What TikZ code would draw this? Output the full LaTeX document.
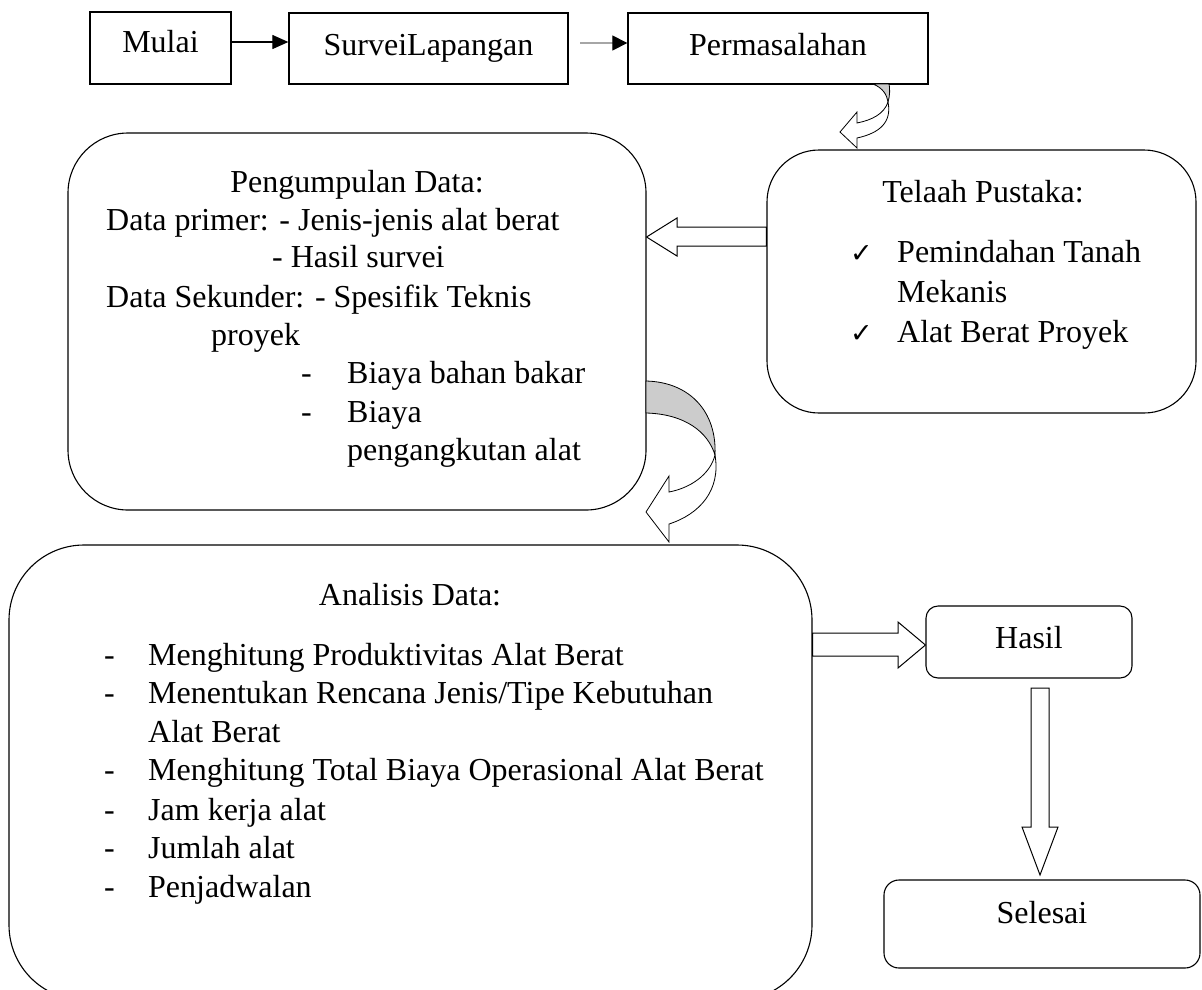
\documentclass[tikz,border=0pt]{standalone}
\usepackage{fontspec}
\setmainfont{Liberation Serif}
\newfontfamily\symfont{DejaVu Sans}
\usetikzlibrary{arrows.meta,calc}
\begin{document}
\begin{tikzpicture}[x=1pt,y=-1pt,
  font=\fontsize{32}{38}\selectfont,
  plainbox/.style={draw, line width=1.3pt, inner sep=0pt, text height=24pt},
  roundbox/.style={draw, line width=1.1pt, inner sep=0pt},
  txt/.style={inner sep=0pt, anchor=base west},
  ctxt/.style={inner sep=0pt, anchor=base},
  chk/.style={inner sep=0pt, anchor=base west, font=\symfont\fontsize{27}{27}\selectfont},
  blockarrow/.style={draw, line width=1pt, fill=white, line join=miter},
  curvegray/.style={draw, line width=0.8pt, fill=gray!40},
  curvewhite/.style={draw, line width=0.8pt, fill=white, line join=miter}]
\useasboundingbox (0,0) rectangle (1202,989);

% top row
\node[plainbox, minimum width=141pt, minimum height=72pt, text depth=16pt] (mulai) at (160.5,48) {Mulai};
\node[plainbox, minimum width=279pt, minimum height=71pt, text depth=11pt] (survei) at (428.5,48.5) {SurveiLapangan};
\node[plainbox, minimum width=300pt, minimum height=71pt, text depth=11pt] (masalah) at (778,48.5) {Permasalahan};

\draw[line width=1.2pt, -{Triangle[length=16pt,width=14pt]}] (mulai.east |- 0,42) -- (survei.west |- 0,42);
\coordinate (g1) at (580,43);
\draw[gray!70, line width=1.2pt, -{Triangle[length=15pt,width=15pt,color=black,fill=black]}] (g1) -- (masalah.west |- g1);

% boxes
\node[roundbox, rounded corners=60pt, minimum width=578pt, minimum height=377pt] (kumpul) at (357,321.5) {};
\node[roundbox, rounded corners=52pt, minimum width=429pt, minimum height=263pt] (telaah) at (981.5,281.5) {};
\node[roundbox, rounded corners=75pt, minimum width=803pt, minimum height=455pt] (analisis) at (410.5,772.5) {};
\node[roundbox, rounded corners=12pt, minimum width=206pt, minimum height=72pt, text height=24pt, text depth=12pt] (hasil) at (1029,642) {Hasil};
\node[roundbox, rounded corners=15pt, minimum width=316pt, minimum height=88pt, text height=24pt, text depth=26pt] (selesai) at (1042,924) {Selesai};

% Pengumpulan text
\node[ctxt] (k0) at (357,192) {Pengumpulan Data:};
\node[txt] (k1) at (106,230) {Data primer: - Jenis-jenis alat berat};
\node[txt] (k2) at (272,267) {- Hasil survei};
\node[txt] (k3) at (106,307) {Data Sekunder: - Spesifik Teknis};
\node[txt] (k4) at (211,345) {proyek};
\node[txt] (k5d) at (301,383) {-};
\node[txt] (k5) at (347,383) {Biaya bahan bakar};
\node[txt] (k6d) at (301,422) {-};
\node[txt] (k6) at (347,422) {Biaya};
\node[txt] (k7) at (347,460) {pengangkutan alat};

% Telaah text
\node[ctxt] (t0) at (983,202) {Telaah Pustaka:};
\node[chk] (t1c) at (850,262) {✓};
\node[txt] (t1) at (897,262) {Pemindahan Tanah};
\node[txt] (t2) at (897,302) {Mekanis};
\node[chk] (t3c) at (850,342) {✓};
\node[txt] (t3) at (897,342) {Alat Berat Proyek};

% Analisis text
\node[ctxt] (a0) at (410,605) {Analisis Data:};
\node[txt] (a1d) at (104,665) {-};
\node[txt] (a1) at (148,665) {Menghitung Produktivitas Alat Berat};
\node[txt] (a2d) at (104,703) {-};
\node[txt] (a2) at (148,703) {Menentukan Rencana Jenis/Tipe Kebutuhan};
\node[txt] (a2b) at (148,742) {Alat Berat};
\node[txt] (a3d) at (104,780) {-};
\node[txt] (a3) at (148,780) {Menghitung Total Biaya Operasional Alat Berat};
\node[txt] (a4d) at (104,820) {-};
\node[txt] (a4) at (148,820) {Jam kerja alat};
\node[txt] (a5d) at (104,858) {-};
\node[txt] (a5) at (148,858) {Jumlah alat};
\node[txt] (a6d) at (104,897) {-};
\node[txt] (a6) at (148,897) {Penjadwalan};

% block arrow telaah -> pengumpulan
\draw[blockarrow] (telaah.west |- 0,227) -- (677,227) -- (677,218) -- (kumpul.east |- 0,237)
  -- (677,256) -- (677,246) -- (telaah.west |- 0,246) -- cycle;
% block arrow analisis -> hasil
\draw[blockarrow] (analisis.east |- 0,633) -- (898,633) -- (898,622) -- (hasil.west |- 0,645)
  -- (898,668) -- (898,656) -- (analisis.east |- 0,656) -- cycle;
% block arrow hasil -> selesai
\draw[blockarrow] (1031,688) -- (1031,827) -- (1022,827) -- (1040,875) -- (1058,827) -- (1049,827) -- (1049,688) -- cycle;

% curved arrow permasalahan -> telaah
\draw[curvegray] (873,84) .. controls (883,88) and (887,95) .. (888,102)
  .. controls (890,96) and (890,88) .. (889,84) -- cycle;
\draw[curvewhite] (888,102) .. controls (884,114) and (872,120) .. (857,123)
  -- (857,112) -- (840,132) -- (857,148) -- (857,138)
  .. controls (880,133) and (892,122) .. (888,102) -- cycle;

% curved arrow pengumpulan -> analisis
\draw[curvegray] (646,381) .. controls (690,382) and (717,412) .. (715,455)
  .. controls (708,432) and (685,414) .. (646,413) -- cycle;
\draw[curvewhite] (715,455) .. controls (710,475) and (690,488) .. (669,492)
  -- (669,476) -- (646,512) -- (669,542) -- (669,524)
  .. controls (700,514) and (721,490) .. (715,455) -- cycle;
\end{tikzpicture}
\end{document}
